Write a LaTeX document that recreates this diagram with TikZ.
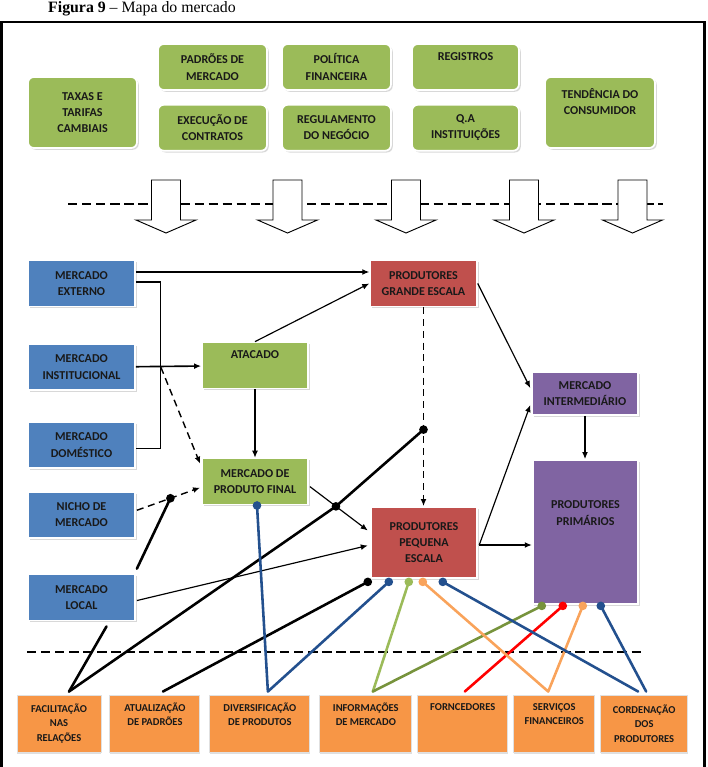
\documentclass[tikz,border=0pt]{standalone}
\usepackage{fontspec}
\newfontfamily\boxfont{Carlito}
\newfontfamily\capfont{Liberation Serif}
\usetikzlibrary{positioning,arrows.meta,calc,shadows}

\definecolor{mapgreen}{HTML}{9BBB59}
\definecolor{mapblue}{HTML}{4F81BD}
\definecolor{mapred}{HTML}{C0504D}
\definecolor{mappurple}{HTML}{8064A2}
\definecolor{maporange}{HTML}{F79646}
\definecolor{linkblue}{HTML}{23508E}
\definecolor{linkgreen}{HTML}{9BBB59}
\definecolor{linkolive}{HTML}{77933C}
\definecolor{linkorange}{HTML}{F9A35B}

\begin{document}
\begin{tikzpicture}[
        x=0.03cm, y=-0.03cm,
        every node/.style={
            font=\boxfont\bfseries\fontsize{10.3}{14}\selectfont,
            text=black!90,
            align=center,
            inner sep=0pt
        },
        topbox/.style={
            rectangle,
            rounded corners=5pt,
            fill=mapgreen,
            draw=white,
            line width=1.5pt,
            drop shadow={shadow xshift=1.5pt, shadow yshift=-1.5pt, fill=black!30},
            minimum width=3.27cm,
            minimum height=1.38cm
        },
        tallbox/.style={
            topbox,
            minimum height=2.13cm
        },
        marketbox/.style={
            rectangle,
            fill=mapblue,
            draw=white,
            line width=1.5pt,
            drop shadow={shadow xshift=1.5pt, shadow yshift=-1.5pt, fill=black!30},
            minimum width=3.21cm,
            minimum height=1.38cm
        },
        chainbox/.style={
            marketbox,
            fill=mapgreen,
            minimum width=3.18cm
        },
        prodbox/.style={
            marketbox,
            fill=mapred,
            minimum width=3.2cm
        },
        primbox/.style={
            marketbox,
            fill=mappurple,
            minimum width=3.17cm
        },
        servbox/.style={
            rectangle,
            fill=maporange,
            draw=black!12,
            line width=0.8pt,
            minimum height=1.71cm,
            font=\boxfont\bfseries\fontsize{9}{12.3}\selectfont,
            drop shadow={shadow xshift=0pt, shadow yshift=-2pt, fill=black!25}
        },
        arrow/.style={
            -{Latex[length=6pt,width=5pt]},
            line width=1pt
        },
        dasharrow/.style={
            arrow,
            dash pattern=on 6pt off 4pt,
            line width=1.2pt
        },
        link/.style={
            line width=2.2pt,
            line cap=round,
            line join=round
        },
        blockarrow/.style={
            draw=black,
            fill=white,
            line width=0.8pt
        },
        divider/.style={
            dash pattern=on 8pt off 4pt,
            line width=1pt
        }
    ]

    \useasboundingbox (0,0) rectangle (707,767);

    % Caption and frame
    \node[font=\capfont\fontsize{13.5}{16}\selectfont, anchor=base west, text=black] (caption) at (48,13) {\textbf{Figura 9} – Mapa do mercado};
    \draw[line width=2pt] (1.5,21.7) rectangle (704.5,800);

    % Context boxes
    \node[tallbox] (taxas) at (82.5,112.5) {TAXAS E\\TARIFAS\\CAMBIAIS};
    \node[topbox] (padroes) at (212.5,67) {PADRÕES DE\\MERCADO};
    \node[topbox, below=0.39cm of padroes] (execucao) {EXECUÇÃO DE\\CONTRATOS};
    \node[topbox] (politica) at (336.5,67) {POLÍTICA\\FINANCEIRA};
    \node[topbox, below=0.39cm of politica] (regulamento) {REGULAMENTO\\DO NEGÓCIO};
    \node[topbox, minimum width=3.21cm] (registros) at (465.5,67) {REGISTROS\\\strut};
    \node[topbox, minimum width=3.21cm, below=0.39cm of registros] (qa) {Q.A\\INSTITUIÇÕES};
    \node[tallbox, minimum width=3.3cm] (tendencia) at (600,112.5) {TENDÊNCIA DO\\CONSUMIDOR\\\strut};

    % Block arrows over the divider
    \draw[divider] (68,204) -- (663,204);
    \foreach \x in {166,287.5,406,524,632.5}
        \draw[blockarrow] (\x-14.5,180) -- (\x+14.5,180) -- (\x+14.5,220) -- (\x+30,220)
            -- (\x,233) -- (\x-30,220) -- (\x-14.5,220) -- cycle;

    % Markets
    \node[marketbox] (externo) at (81.5,283.5) {MERCADO\\EXTERNO};
    \node[marketbox, below=1.08cm of externo] (institucional) {MERCADO\\INSTITUCIONAL};
    \node[marketbox, below=0.9cm of institucional] (domestico) {MERCADO\\DOMÉSTICO};
    \node[marketbox, below=0.66cm of domestico] (nicho) {NICHO DE\\MERCADO};
    \node[marketbox, below=1.05cm of nicho] (local) {MERCADO\\LOCAL};

    % Chain
    \node[chainbox] (atacado) at (255,365.5) {ATACADO\\\strut};
    \node[chainbox, below=2.05cm of atacado] (final) {MERCADO DE\\PRODUTO FINAL};
    \node[prodbox] (grande) at (423.5,283.5) {PRODUTORES\\GRANDE ESCALA};
    \node[prodbox, minimum height=2.13cm] (pequena) at (424,542.5) {PRODUTORES\\PEQUENA\\ESCALA};
    \node[primbox, minimum height=1.29cm] (intermed) at (585,393.5) {MERCADO\\INTERMEDIÁRIO};
    \node[primbox, minimum height=4.32cm] (primarios) at (585.5,532) {PRODUTORES\\PRIMÁRIOS\\\strut\\\strut};

    % Services
    \node[servbox, minimum width=2.52cm] (facilitacao) at (59,723.5) {FACILITAÇÃO\\NAS\\RELAÇÕES};
    \node[servbox, minimum width=2.7cm, right=0.24cm of facilitacao] (atualizacao) {ATUALIZAÇÃO\\DE PADRÕES\\\strut};
    \node[servbox, minimum width=3cm, right=0.27cm of atualizacao] (diversificacao) {DIVERSIFICAÇÃO\\DE PRODUTOS\\\strut};
    \node[servbox, minimum width=2.76cm, right=0.27cm of diversificacao] (informacoes) {INFORMAÇÕES\\DE MERCADO\\\strut};
    \node[servbox, minimum width=2.7cm, right=0.15cm of informacoes] (forncedores) {FORNCEDORES\\\strut\\\strut};
    \node[servbox, minimum width=2.43cm, right=0.15cm of forncedores] (servicos) {SERVIÇOS\\FINANCEIROS\\\strut};
    \node[servbox, minimum width=2.61cm, right=0.15cm of servicos] (cordenacao) {CORDENAÇÃO\\DOS\\PRODUTORES};

    % Market flows
    \coordinate (split) at ($(institucional.east)+(25,0)$);
    \draw[arrow] ($(externo.east)+(0,-11.5)$) -- ($(grande.west)+(0,-11.5)$);
    \draw[line width=1pt] ($(externo.east)+(0,-1.5)$) -| ($(domestico.east)+(25,3.5)$) -- ($(domestico.east)+(0,3.5)$);
    \draw[arrow, line width=1.4pt] (institucional) -- (atacado);
    \draw[dasharrow] (split) -- ($(final.north west)+(-1,6)$);
    \draw[arrow] (atacado.north) -- (grande.west);
    \draw[arrow] (atacado) -- (final);

    \coordinate (nichoOut) at ($(nicho.east)+(1,-4.5)$);
    \coordinate (finalIn) at ($(final.west)+(-1,6)$);
    \draw[dasharrow] (nichoOut) -- (finalIn);
    \coordinate (dotNicho) at ($(nichoOut)!0.53!(finalIn)$);

    \coordinate (finalOut) at ($(final.east)+(1,5)$);
    \coordinate (pequenaIn) at ($(pequena.west)+(-2,-12)$);
    \draw[arrow] (finalOut) -- (pequenaIn);
    \coordinate (dotFinal) at ($(finalOut)!0.45!(pequenaIn)$);
    \draw[arrow] ($(local.east)+(1,3)$) -- ($(pequena.west)+(-2,3)$);

    \draw[dasharrow] (grande.south) -- (grande.south |- pequena.north);
    \coordinate (dotGrande) at ($(grande.south)!0.615!(grande.south |- pequena.north)$);
    \draw[arrow] (grande.east) -- ($(intermed.west)+(-1,-5.5)$);

    \coordinate (pequenaOut) at ($(pequena.east)+(1,2.5)$);
    \draw[arrow] (pequenaOut) -- (pequenaOut -| primarios.west);
    \draw[arrow] (pequenaOut) -- ($(intermed.west)+(-1,11.5)$);
    \draw[arrow] (intermed.south) -- (intermed.south |- primarios.north);

    % Service links
    \draw[divider] (27,652) -- (642,652);

    \coordinate (pq1) at ($(pequena.south west)+(-2,3)$);
    \coordinate (pq2) at ($(pequena.south west)+(19,3)$);
    \coordinate (pq3) at ($(pequena.south west)+(39,3)$);
    \coordinate (pq4) at ($(pequena.south west)+(53,3)$);
    \coordinate (pq5) at ($(pequena.south west)+(73,3)$);
    \coordinate (pr1) at ($(primarios.south west)+(10,1)$);
    \coordinate (pr2) at ($(primarios.south west)+(31,1)$);
    \coordinate (pr3) at ($(primarios.south west)+(51,1)$);
    \coordinate (pr4) at ($(primarios.south west)+(69,1)$);
    \coordinate (fn1) at ($(final.south)+(2,0)$);

    \coordinate (facTop) at ($(facilitacao.north)+(10,-3)$);
    \coordinate (atuTop) at ($(atualizacao.north)+(8,-3)$);
    \coordinate (divTop) at ($(diversificacao.north)+(8,-3)$);
    \coordinate (infTop) at ($(informacoes.north)+(7,-3)$);
    \coordinate (forTop) at ($(forncedores.north)+(2,-3)$);
    \coordinate (serTop) at ($(servicos.north)+(-6,-3)$);
    \coordinate (corTop) at ($(cordenacao.north)+(-6,-3)$);
    \coordinate (corTopB) at ($(cordenacao.north)+(2,-3)$);

    \draw[link] (facTop) -- ($(local.south)+(25,5)$);
    \draw[link] ($(local.north east)+(1,-5)$) -- (dotNicho);
    \draw[link] (facTop) -- (dotFinal) -- (dotGrande);
    \draw[link] (atuTop) -- (pq1);
    \draw[link, linkblue] (fn1) -- (divTop) -- (pq2);
    \draw[link, linkgreen] (pq3) -- (infTop);
    \draw[link, linkolive] (infTop) -- (pr1);
    \draw[link, red] (forTop) -- (pr2);
    \draw[link, linkorange] (pq4) -- (serTop) -- (pr3);
    \draw[link, linkblue] (pq5) -- (corTop);
    \draw[link, linkblue] (pr4) -- (corTopB);

    % Link dots
    \foreach \d/\c in {dotNicho/black, dotFinal/black, dotGrande/black, pq1/black,
            pq2/linkblue, pq3/linkgreen, pq4/linkorange, pq5/linkblue, pr1/linkolive,
            pr2/red, pr3/linkorange, pr4/linkblue, fn1/linkblue}
        \fill[\c] (\d) circle[radius=1.3mm];

    \end{tikzpicture}
\end{document}
